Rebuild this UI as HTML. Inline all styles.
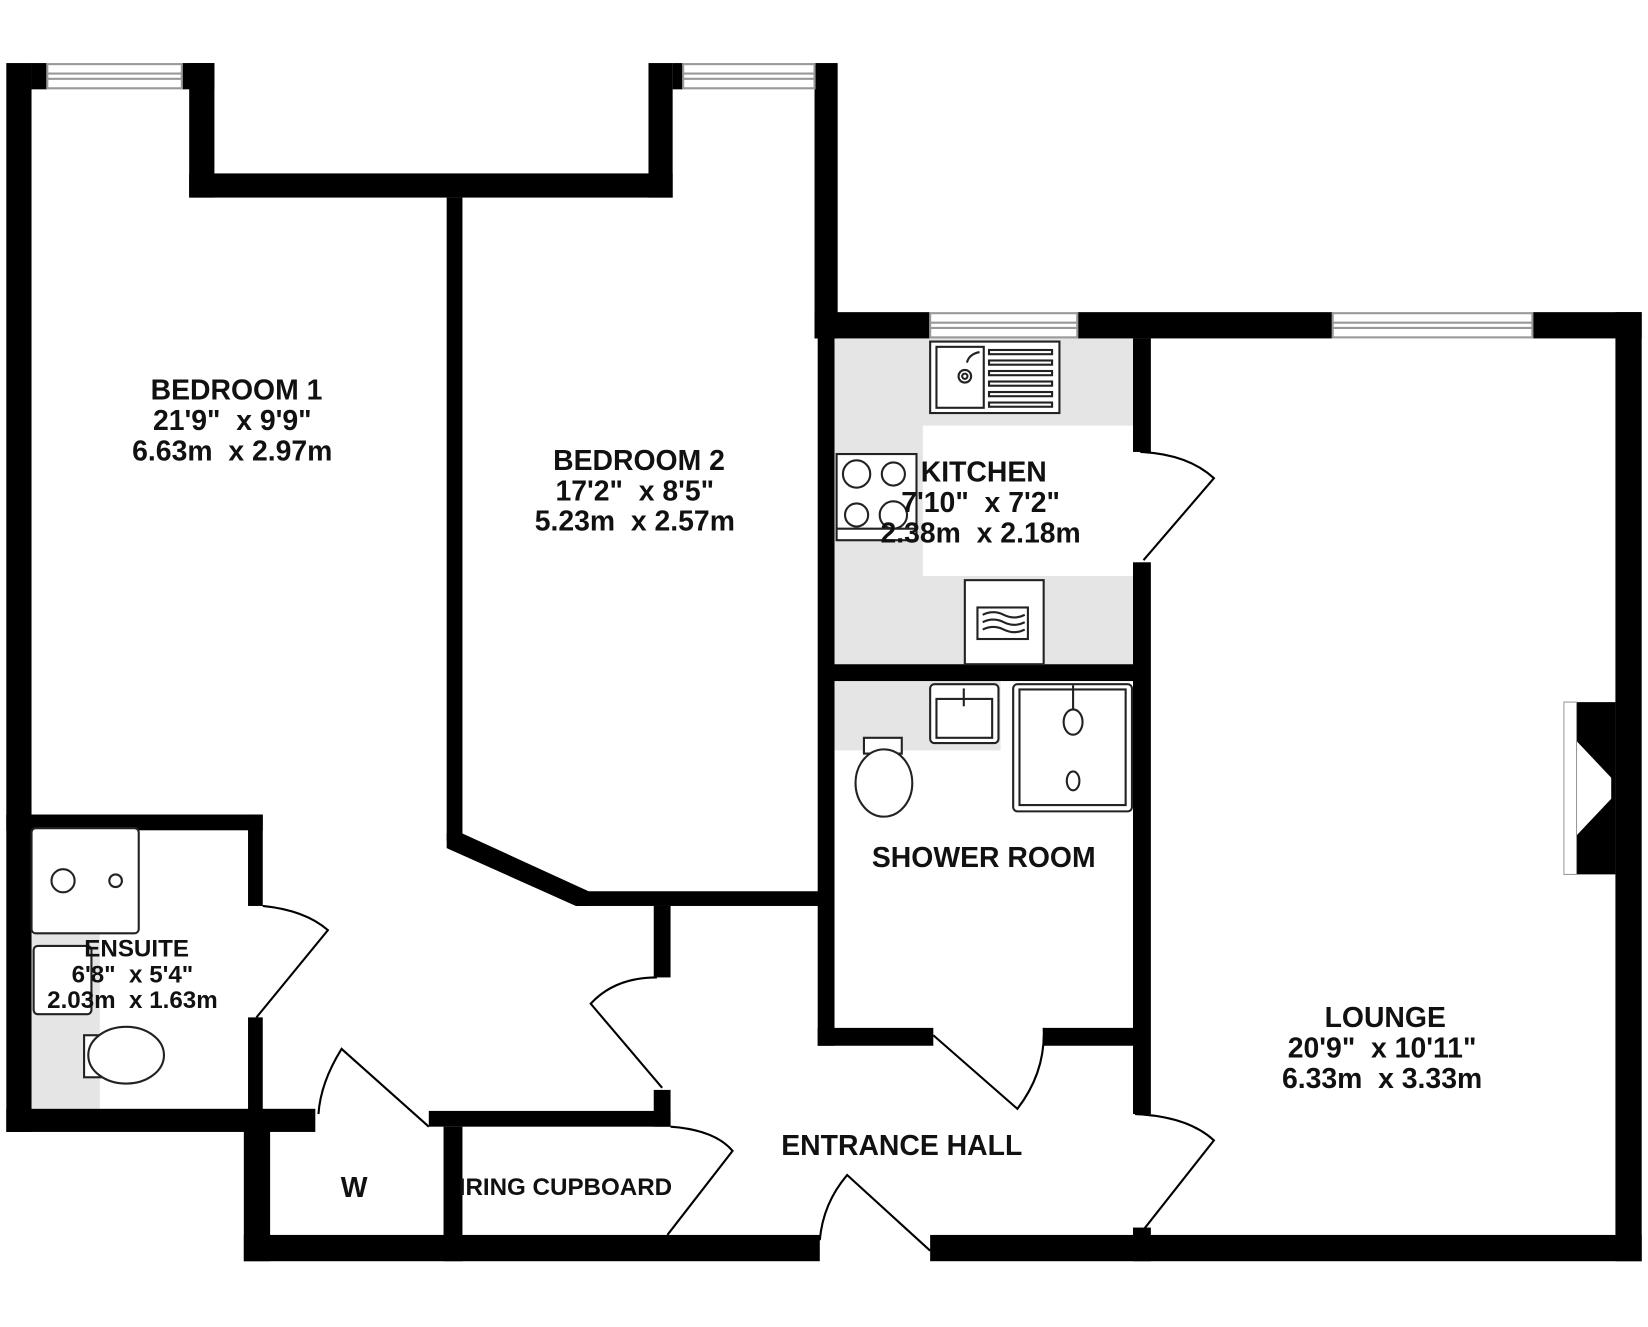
<!DOCTYPE html>
<html><head><meta charset="utf-8"><style>
html,body{margin:0;padding:0;background:#fff;}
svg{display:block;}
text{font-family:"Liberation Sans",sans-serif;font-weight:bold;fill:#111;text-anchor:middle;white-space:pre;}
</style></head><body>
<svg width="1648" height="1327" viewBox="0 0 1568 1262.6" preserveAspectRatio="none" xmlns="http://www.w3.org/2000/svg" xml:space="preserve">
<rect width="1568" height="1263" fill="#fff"/>
<rect x="794" y="322" width="284" height="310" fill="#e5e5e5"/>
<rect x="878" y="405" width="200" height="143" fill="#fff"/>
<rect x="794" y="648" width="158" height="66" fill="#e5e5e5"/>
<rect x="30" y="790" width="65" height="265" fill="#e5e5e5"/>

<g fill="#000">
<rect x="6" y="60" width="24" height="1017"/>
<rect x="30" y="60" width="15" height="25"/>
<rect x="173" y="60" width="31" height="25"/>
<rect x="180" y="60" width="24" height="128"/>
<rect x="180" y="165" width="460" height="23"/>
<rect x="617" y="60" width="23" height="128"/>
<rect x="640" y="60" width="10" height="25"/>
<rect x="775" y="60" width="22" height="262"/>
<rect x="425" y="188" width="15" height="612"/>
<polygon points="425,793 440,793 560,848 560,862 548,862 425,807"/>
<rect x="548" y="848" width="232" height="14"/>
<rect x="778" y="320" width="16" height="675"/>
<rect x="778" y="978" width="110" height="17"/>
<rect x="993" y="978" width="87" height="17"/>
<rect x="775" y="297" width="110" height="25"/>
<rect x="1025" y="297" width="243" height="25"/>
<rect x="1458" y="297" width="104" height="25"/>
<rect x="1537" y="297" width="25" height="903"/>
<rect x="1078" y="322" width="17" height="108"/>
<rect x="1078" y="535" width="17" height="525"/>
<rect x="1078" y="1168" width="17" height="32"/>
<rect x="794" y="632" width="286" height="16"/>
<rect x="6" y="775" width="244" height="15"/>
<rect x="236" y="775" width="14" height="87"/>
<rect x="236" y="968" width="14" height="92"/>
<rect x="6" y="1055" width="294" height="22"/>
<rect x="408" y="1057" width="230" height="15"/>
<rect x="622" y="862" width="16" height="68"/>
<rect x="622" y="1037" width="16" height="35"/>
<rect x="232" y="1060" width="25" height="140"/>
<rect x="422" y="1072" width="18" height="128"/>
<rect x="232" y="1175" width="548" height="25"/>
<rect x="885" y="1175" width="677" height="25"/>
<polygon points="1500,668 1537,668 1537,832 1500,832 1500,795 1533,760 1533,740 1500,705"/>
</g>
<rect x="1488" y="668" width="12" height="164" fill="#fff" stroke="#999" stroke-width="1"/>

<g fill="#fff" stroke="#999" stroke-width="2">
<rect x="45" y="61" width="128" height="23"/><line x1="45" y1="70" x2="173" y2="70"/><line x1="45" y1="75" x2="173" y2="75"/>
<rect x="650" y="61" width="125" height="23"/><line x1="650" y1="70" x2="775" y2="70"/><line x1="650" y1="75" x2="775" y2="75"/>
<rect x="885" y="298" width="140" height="23"/><line x1="885" y1="307" x2="1025" y2="307"/><line x1="885" y1="312" x2="1025" y2="312"/>
<rect x="1268" y="298" width="190" height="23"/><line x1="1268" y1="307" x2="1458" y2="307"/><line x1="1268" y1="312" x2="1458" y2="312"/>
</g>

<g fill="none" stroke="#000" stroke-width="2">
<path d="M1088,533 L1155,455 Q1130,432 1085,430"/>
<path d="M244,968 L312,885 Q290,866 250,862"/>
<path d="M630,1035 L562,955 Q585,930 625,930"/>
<path d="M408,1072 L325,998 Q305,1030 303,1060"/>
<path d="M635,1175 L697,1095 Q680,1075 638,1072"/>
<path d="M885,1190 L806,1118 Q783,1145 780,1180"/>
<path d="M888,985 L968,1055 Q995,1020 993,978"/>
<path d="M1088,1170 L1155,1085 Q1130,1062 1080,1060"/>
</g>

<g fill="#fff" stroke="#222" stroke-width="2">
<rect x="885" y="325" width="123" height="68"/>
<rect x="891" y="330" width="45" height="58"/>
<circle cx="918" cy="358" r="6"/><circle cx="918" cy="358" r="2.5"/>
<path d="M920,345 q2,-8 12,-10" fill="none"/>
<rect x="941" y="333" width="60" height="4"/><rect x="941" y="343" width="60" height="4"/><rect x="941" y="353" width="60" height="4"/><rect x="941" y="363" width="60" height="4"/><rect x="941" y="373" width="60" height="4"/><rect x="941" y="383" width="60" height="4"/>
<rect x="796" y="432" width="76" height="82"/>
<circle cx="815" cy="451" r="13"/><circle cx="850" cy="451" r="11"/><circle cx="815" cy="490" r="11"/><circle cx="850" cy="490" r="13"/>
<line x1="796" y1="503" x2="872" y2="503"/>
<rect x="918" y="552" width="75" height="80"/>
<rect x="930" y="578" width="48" height="30"/>
<path d="M935,585 q10,-5 20,0 t20,0 M935,592 q10,-5 20,0 t20,0 M935,599 q10,-5 20,0 t20,0" fill="none"/>
<rect x="885" y="651" width="65" height="56" rx="4"/>
<rect x="891" y="665" width="53" height="37"/>
<line x1="917" y1="655" x2="917" y2="672"/>
<rect x="964" y="651" width="113" height="121" rx="4"/>
<rect x="970" y="656" width="101" height="110"/>
<line x1="1021" y1="652" x2="1021" y2="676"/>
<ellipse cx="1021" cy="687" rx="9" ry="12"/>
<ellipse cx="1021" cy="743" rx="6" ry="9"/>
<rect x="822" y="702" width="36" height="15"/>
<ellipse cx="841" cy="745" rx="27" ry="32"/>
<rect x="30" y="788" width="102" height="100" rx="4"/>
<circle cx="60" cy="838" r="11"/><circle cx="110" cy="838" r="6"/>
<rect x="32" y="900" width="55" height="65" rx="4"/>
<rect x="80" y="985" width="20" height="40"/>
<ellipse cx="120" cy="1004" rx="36" ry="27"/>
</g>

<g font-size="27">
<text x="225" y="380">BEDROOM 1</text>
<text x="221" y="409">21'9"  x 9'9"</text>
<text x="221" y="438">6.63m  x 2.97m</text>
<text x="608" y="447">BEDROOM 2</text>
<text x="604" y="476">17'2"  x 8'5"</text>
<text x="604" y="505">5.23m  x 2.57m</text>
<text x="936" y="458">KITCHEN</text>
<text x="933" y="487">7'10"  x 7'2"</text>
<text x="933" y="516">2.38m  x 2.18m</text>
<text x="936" y="825">SHOWER ROOM</text>
<text x="1318" y="977">LOUNGE</text>
<text x="1315" y="1006">20'9"  x 10'11"</text>
<text x="1315" y="1035">6.33m  x 3.33m</text>
<text x="858" y="1099">ENTRANCE HALL</text>
<text x="337" y="1139">W</text>
</g>
<g font-size="23">
<text x="130" y="910">ENSUITE</text>
<text x="126" y="935">6'8"  x 5'4"</text>
<text x="126" y="959">2.03m  x 1.63m</text>
<text x="538" y="1137">IRING CUPBOARD</text>
</g>
</svg>
</body></html>
